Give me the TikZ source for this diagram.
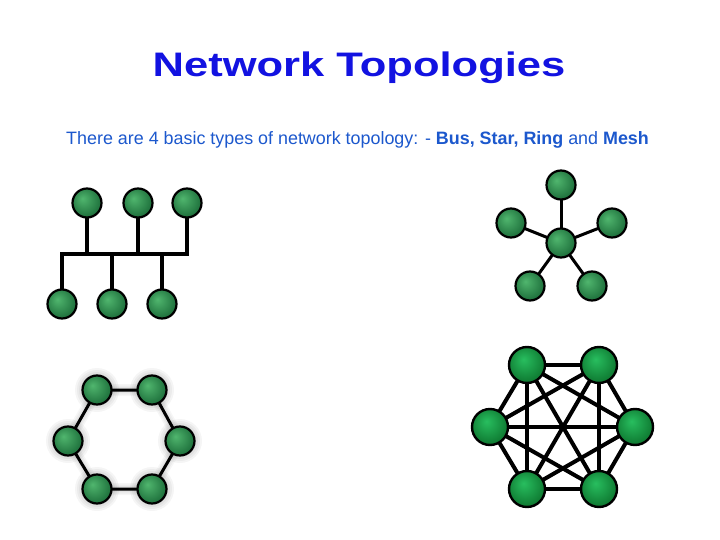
\documentclass[tikz,border=0pt]{standalone}
\usepackage{fontspec}
\setmainfont{Liberation Sans}
\definecolor{titleblue}{RGB}{18,18,225}
\definecolor{subblue}{RGB}{28,88,205}
\definecolor{nodelight}{RGB}{80,182,110}
\definecolor{nodedark}{RGB}{30,112,60}
\definecolor{meshlight}{RGB}{40,190,95}
\definecolor{meshdark}{RGB}{12,115,45}
\pgfdeclareradialshading{greenball}{\pgfpoint{-8bp}{8bp}}{color(0bp)=(nodelight); color(28bp)=(nodedark); color(50bp)=(nodedark)}
\pgfdeclareradialshading{meshball}{\pgfpoint{-5bp}{8bp}}{color(0bp)=(meshlight); color(30bp)=(meshdark); color(50bp)=(meshdark)}
\begin{document}
\begin{tikzpicture}[x=1pt,y=-1pt,
  pc/.style={circle, draw=black, line width=2.2pt, minimum size=29pt, inner sep=0pt, shading=greenball},
  meshpc/.style={pc, minimum size=36pt, line width=2.4pt, shading=meshball},
  buslink/.style={line width=4pt, black, line join=miter},
  starlink/.style={line width=3pt, black},
  ringlink/.style={line width=3pt, black},
  ringshadow/.style={line width=#1, black, opacity=0.035, line cap=round},
  meshlink/.style={line width=4pt, black}]
\fill[white] (0,0) rectangle (720,540);
\useasboundingbox (0,0) rectangle (720,540);

% Title and subtitle
\node[text=titleblue, font=\bfseries\fontsize{34}{40}\selectfont, anchor=base, inner sep=0pt] (title) at (359,77) {\scalebox{1.28}[1]{Network Topologies}};
\node[text=subblue, font=\fontsize{17.9}{21}\selectfont, anchor=base west, inner sep=0pt] (sub) at (66,144.5) {There are 4 basic types of network topology: - \textbf{Bus, Star, Ring} and \textbf{Mesh}};

% Bus
\coordinate (b1) at (87,203);
\coordinate (b2) at (138,203);
\coordinate (b3) at (187,203);
\coordinate (b4) at (62,304);
\coordinate (b5) at (112,304);
\coordinate (b6) at (162,304);
\coordinate (busy) at (0,254);
\draw[buslink] (b4) -- (b4 |- busy) -- (b3 |- busy) -- (b3);
\draw[buslink] (b1) -- (b1 |- busy);
\draw[buslink] (b2) -- (b2 |- busy);
\draw[buslink] (b5) -- (b5 |- busy);
\draw[buslink] (b6) -- (b6 |- busy);
\foreach \n in {b1,b2,b3,b4,b5,b6}
  \node[pc] (n\n) at (\n) {};

% Star
\coordinate (s0) at (561,243);
\coordinate (s1) at (561,185);
\coordinate (s2) at (511,223);
\coordinate (s3) at (612,223);
\coordinate (s4) at (530,286);
\coordinate (s5) at (592,286);
\foreach \n in {s1,s2,s3,s4,s5}
  \draw[starlink] (s0) -- (\n);
\foreach \n in {s0,s1,s2,s3,s4,s5}
  \node[pc] (n\n) at (\n) {};

% Ring
\coordinate (r1) at (97,390);
\coordinate (r2) at (152,390);
\coordinate (r3) at (180,441);
\coordinate (r4) at (152,489);
\coordinate (r5) at (97,489);
\coordinate (r6) at (68,441);
\begin{scope}[shift={(1.5,2.5)}]
\foreach \w in {6,9,12}
  \draw[ringshadow=\w pt] (r1) -- (r2) -- (r3) -- (r4) -- (r5) -- (r6) -- cycle;
\foreach \n in {r1,r2,r3,r4,r5,r6}
  \foreach \rr in {16,18,20,22}
    \fill[black, opacity=0.04] (\n) circle[radius=\rr pt];
\end{scope}
\draw[ringlink] (r1) -- (r2) -- (r3) -- (r4) -- (r5) -- (r6) -- cycle;
\foreach \n in {r1,r2,r3,r4,r5,r6}
  \node[pc] (n\n) at (\n) {};

% Mesh
\coordinate (m1) at (527,365);
\coordinate (m2) at (599,365);
\coordinate (m3) at (635,427);
\coordinate (m4) at (599,489);
\coordinate (m5) at (527,489);
\coordinate (m6) at (490,427);
\foreach \a/\b in {m1/m2,m1/m3,m1/m4,m1/m5,m1/m6,m2/m3,m2/m4,m2/m5,m2/m6,m3/m4,m3/m5,m3/m6,m4/m5,m4/m6,m5/m6}
  \draw[meshlink] (\a) -- (\b);
\foreach \n in {m1,m2,m3,m4,m5,m6}
  \node[meshpc] (n\n) at (\n) {};
\end{tikzpicture}
\end{document}
